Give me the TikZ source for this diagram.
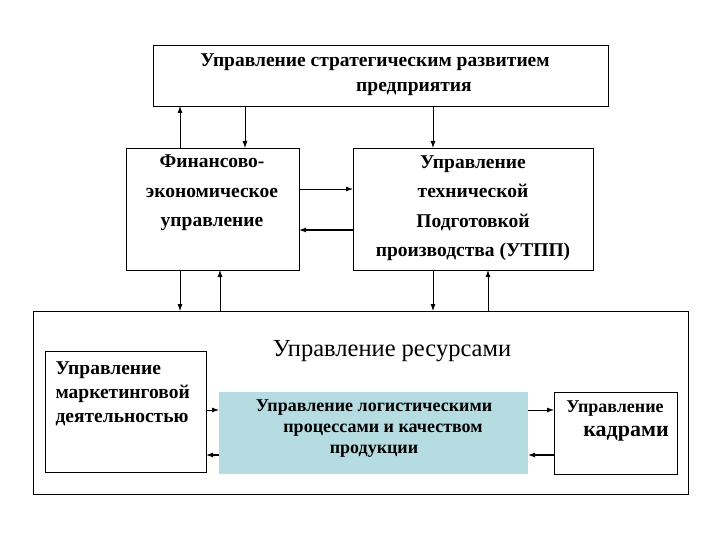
\documentclass[tikz,border=0pt]{standalone}
\usepackage{fontspec}
\usetikzlibrary{arrows.meta}
\setmainfont{Liberation Serif}
\begin{document}
\begin{tikzpicture}[x=1pt,y=-1pt,
 box/.style={draw,thick,inner sep=0pt},
 arr/.style={-{Latex[length=7pt,width=5pt]},thick},
 tb/.style={font=\fontsize{19.5}{29.5}\selectfont\bfseries,align=center}]
\useasboundingbox (0,0) rectangle (720,540);
\draw[box] (153,45) rectangle (608,106);
\node[font=\fontsize{19.5}{25}\selectfont\bfseries,align=center] (top) at (375,75) {Управление стратегическим развитием\\ \hspace{4em}предприятия};
\draw[box] (126,148) rectangle (299,270);
\node[tb] (fin) at (212,193) {Финансово-\\экономическое\\управление};
\draw[box] (353,148) rectangle (593,270);
\node[tb] (utpp) at (473,208) {Управление\\технической\\Подготовкой\\производства (УТПП)};
\draw[box] (33,311) rectangle (688,494);
\node[font=\fontsize{24.5}{28}\selectfont] (res) at (392,351) {Управление ресурсами};
\draw[box] (45,351) rectangle (206,472);
\node[font=\fontsize{19.5}{24}\selectfont\bfseries,align=left,anchor=north west] (mkt) at (52,358) {Управление\\маркетинговой\\деятельностью};
\fill[fill={rgb,255:red,180;green,220;blue,225}] (219,392) rectangle (528,474);
\node[font=\fontsize{18}{21}\selectfont\bfseries,align=center] (log) at (374,429) {Управление логистическими\\\hspace{1em}процессами и качеством\\продукции};
\draw[box] (554,392) rectangle (677,474);
\node[font=\fontsize{18}{24}\selectfont\bfseries,align=center] (kad) at (615,421) {Управление\\{\fontsize{22}{24}\selectfont\hspace{1em}кадрами}};
% arrows
\draw[arr] (180,148) -- (180,106);
\draw[arr] (245,106) -- (245,148);
\draw[arr] (433,106) -- (433,148);
\draw[arr] (299,189) -- (353,189);
\draw[arr,very thick] (353,230) -- (299,230);
\draw[arr] (180,270) -- (180,311);
\draw[arr] (220,311) -- (220,270);
\draw[arr] (433,270) -- (433,311);
\draw[arr] (488,311) -- (488,270);
\draw[arr] (206,410) -- (219,410);
\draw[arr,very thick] (219,455) -- (206,455);
\draw[arr] (528,410) -- (554,410);
\draw[arr,very thick] (554,455) -- (528,455);
\end{tikzpicture}
\end{document}
